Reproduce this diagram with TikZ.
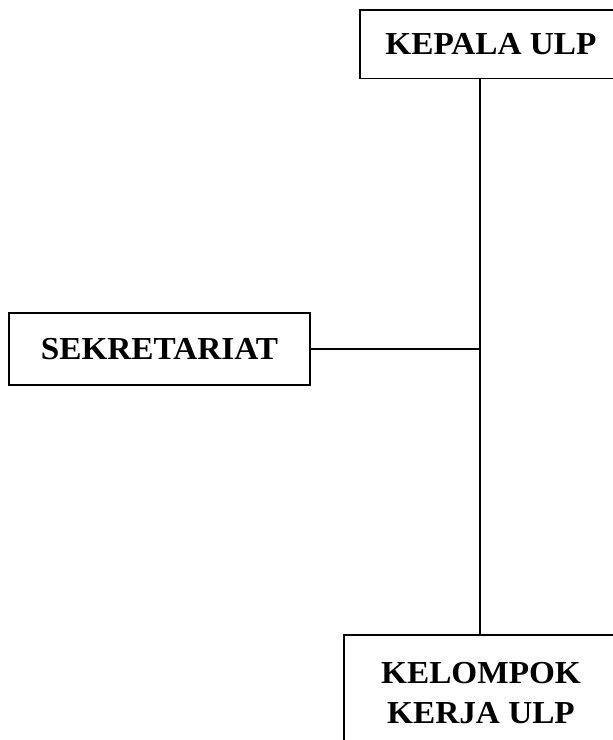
\documentclass[tikz,border=0pt]{standalone}
\usepackage{fontspec}
\setmainfont{Liberation Serif}[FakeStretch=1.04]
\begin{document}
\begin{tikzpicture}[x=1pt,y=-1pt,
  box/.style={draw,line width=1.4pt,inner sep=0pt,align=center,
    font=\fontsize{32}{40}\selectfont\bfseries},
  openbox/.style={inner sep=0pt,align=center,
    font=\fontsize{32}{40}\selectfont\bfseries},
  frame/.style={line width=1.4pt},
  conn/.style={line width=1.4pt}]
\useasboundingbox (0,0) rectangle (613,740);
\clip (0,0) rectangle (613,740);
\node[openbox,minimum width=262pt,minimum height=68pt] (kepala) at (491,44) {KEPALA ULP};
\draw[frame] (kepala.north west -| 613,0) -- (kepala.north west) -- (kepala.south west) -- (kepala.south west -| 613,0);
\node[box,minimum width=301pt,minimum height=72pt] (sek) at (159.5,349) {SEKRETARIAT};
\node[openbox,minimum width=274pt,minimum height=116pt] (kel) at (481,693) {KELOMPOK\\KERJA ULP};
\draw[frame] (kel.north west |- 0,740) -- (kel.north west) -- (kel.north west -| 613,0);
\coordinate (junc) at (sek.east -| 480,0);
\draw[conn] (junc |- kepala.south) -- (junc |- kel.north);
\draw[conn] (sek.east) -- (junc);
\end{tikzpicture}
\end{document}
